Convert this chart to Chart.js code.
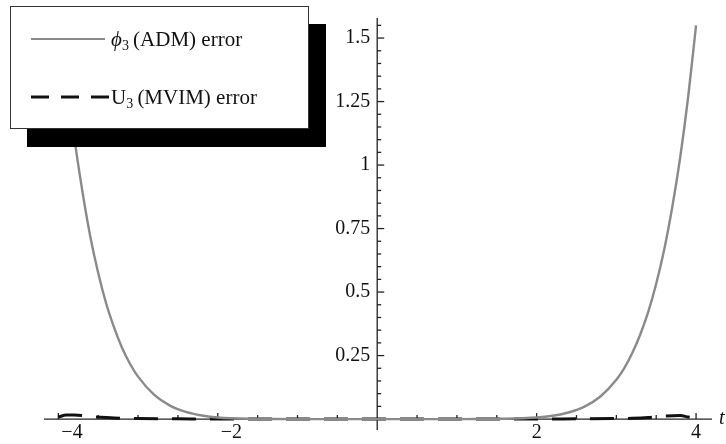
<!DOCTYPE html>
<html lang="en">
<head>
    <meta charset="UTF-8">
    <title>ADM vs MVIM error</title>
    <script src="https://cdnjs.cloudflare.com/ajax/libs/Chart.js/4.4.0/chart.umd.min.js"></script>
    <style>
        body { margin: 0; background: #fff; }
        #wrap { position: relative; width: 726px; height: 444px; }
        #legend {
            position: absolute; left: 10px; top: 6px; width: 297px; height: 121px;
            background: #fff; border: 1px solid #333; box-shadow: 17px 18px 0 #000;
            font-family: "Liberation Serif", "DejaVu Serif", serif; font-size: 21px; color: #111;
        }
        .row { position: absolute; left: 20px; height: 24px; display: flex; align-items: center; }
        .row svg { margin-right: 2px; }
        sub { font-size: 14px; vertical-align: -4px; line-height: 0; }
    </style>
</head>
<body>
    <div id="wrap">
        <canvas id="chart" width="726" height="444"></canvas>
        <div id="legend">
            <div class="row" style="top:20px">
                <svg width="78" height="10"><line x1="0" y1="5" x2="74" y2="5" stroke="#8a8a8a" stroke-width="2"/></svg>
                <span><i>&#x3D5;</i><sub>3</sub>&thinsp;(ADM) error</span>
            </div>
            <div class="row" style="top:78px">
                <svg width="78" height="10"><line x1="0" y1="5" x2="78" y2="5" stroke="#111" stroke-width="3" stroke-dasharray="18 12"/></svg>
                <span>U<sub>3</sub>&thinsp;(MVIM) error</span>
            </div>
        </div>
    </div>

    <script>
        // values
        const admT = [-4, -3.9, -3.8, -3.7, -3.6, -3.5, -3.4, -3.3, -3.2, -3.1, -3.0, -2.8, -2.6, -2.4, -2.2, -2.0, -1.5, -1, 0,
                      1, 1.5, 2.0, 2.2, 2.4, 2.6, 2.8, 3.0, 3.1, 3.2, 3.3, 3.4, 3.5, 3.6, 3.7, 3.8, 3.9, 4];
        const admError = [1.68, 1.38, 1.11, 0.90, 0.72, 0.575, 0.455, 0.36, 0.28, 0.217, 0.167, 0.096, 0.053, 0.028, 0.014, 0.006, 0.001, 0, 0,
                          0, 0.001, 0.006, 0.013, 0.026, 0.049, 0.089, 0.155, 0.201, 0.26, 0.333, 0.422, 0.533, 0.667, 0.832, 1.028, 1.266, 1.55];

        const mvimT = [-4, -3.9, -3.8, -3.6, -3.4, -3.2, -3.0, -2.5, -2, 0, 2, 2.5, 3.0, 3.2, 3.4, 3.6, 3.8, 3.9, 4];
        const mvimError = [0.008, 0.016, 0.016, 0.01, 0.006, 0.003, 0.002, 0.001, 0, 0, 0, 0.001, 0.002, 0.003, 0.006, 0.012, 0.014, 0.008, 0.003];

        const xLabels = [-4, -2, 2, 4];
        const yLabels = ['0.25', '0.5', '0.75', '1', '1.25', '1.5'];

        const serif = '"Liberation Serif", "DejaVu Serif", serif';

        // Mathematica style axes crossing at the origin
        const axesPlugin = {
            id: 'originAxes',
            beforeDatasetsDraw(chart) {
                const { ctx, scales: { x, y } } = chart;
                const x0 = x.getPixelForValue(0);
                const y0 = y.getPixelForValue(0);
                const seg = (a, b, c, d) => { ctx.beginPath(); ctx.moveTo(a, b); ctx.lineTo(c, d); ctx.stroke(); };

                ctx.save();
                ctx.strokeStyle = '#222';
                ctx.lineWidth = 1.3;
                seg(x.left, y0, x.right, y0);
                seg(x0, y.top, x0, y.bottom);

                // x ticks every 0.5
                for (let i = -8; i <= 8; i++) {
                    if (i === 0) continue;
                    const px = x.getPixelForValue(i / 2);
                    seg(px, y0, px, y0 - (i % 4 === 0 ? 6 : 4));
                }
                // y ticks every 0.05, major every 0.25
                for (let i = 1; i <= 31; i++) {
                    const py = y.getPixelForValue(i * 0.05);
                    seg(x0, py, x0 + (i % 5 === 0 ? 7 : 4), py);
                }

                ctx.fillStyle = '#111';
                ctx.font = '20px ' + serif;
                ctx.textBaseline = 'middle';
                xLabels.forEach(v => {
                    const px = x.getPixelForValue(v);
                    if (v < 0) {
                        ctx.textAlign = 'left';
                        ctx.fillText('\u2212' + Math.abs(v), px + 3, y0 + 14);
                    } else {
                        ctx.textAlign = 'center';
                        ctx.fillText(String(v), px, y0 + 14);
                    }
                });
                ctx.textAlign = 'right';
                yLabels.forEach(s => {
                    ctx.fillText(s, x0 - 7, y.getPixelForValue(parseFloat(s)));
                });
                ctx.textAlign = 'left';
                ctx.font = 'italic 20px ' + serif;
                ctx.fillText('t', x.right + 7, y0);
                ctx.restore();
            }
        };

        new Chart(document.getElementById('chart'), {
            type: 'line',
            data: {
                datasets: [
                    {
                        label: 'ADM',
                        data: admT.map((t, i) => ({ x: t, y: admError[i] })),
                        borderColor: '#8a8a8a',
                        borderWidth: 2.4,
                        pointRadius: 0,
                        cubicInterpolationMode: 'monotone'
                    },
                    {
                        label: 'MVIM',
                        data: mvimT.map((t, i) => ({ x: t, y: mvimError[i] })),
                        borderColor: '#111',
                        borderWidth: 3,
                        borderDash: [24, 14],
                        pointRadius: 0,
                        cubicInterpolationMode: 'monotone'
                    }
                ]
            },
            options: {
                responsive: false,
                animation: false,
                layout: { padding: { left: 44, right: 14, top: 18, bottom: 14 } },
                plugins: { legend: { display: false }, tooltip: { enabled: false } },
                scales: {
                    x: { type: 'linear', min: -4.18, max: 4.2, display: false },
                    y: { type: 'linear', min: -0.043, max: 1.579, display: false }
                }
            },
            plugins: [axesPlugin]
        });
    </script>
</body>
</html>
